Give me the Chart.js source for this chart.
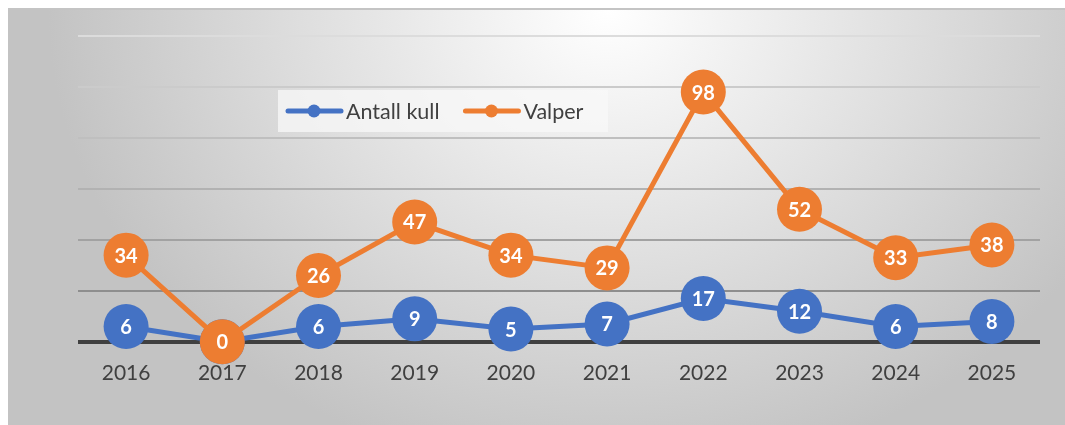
<!DOCTYPE html>
<html>
<head>
<meta charset="utf-8">
<script src="https://cdn.jsdelivr.net/npm/chart.js"></script>
<style>
  body { margin: 0; background: #fff; }
  #bakgrunn {
    position: absolute; left: 8px; top: 8px; width: 1100px; height: 440px;
    border-top: 2px solid #c4c4c4;
    background: radial-gradient(ellipse 560px 470px at 600px 0px, #ffffff 0%, #c3c3c3 100%);
  }
  #wrap { position: absolute; left: 0; top: 0; width: 1065px; height: 425px; }
</style>
</head>
<body>
<div id="bakgrunn"></div>
<div id="wrap"><canvas id="kull"></canvas></div>
<script>
const aar = ['2016', '2017', '2018', '2019', '2020', '2021', '2022', '2023', '2024', '2025'];
const antallKull = [6, 0, 6, 9, 5, 7, 17, 12, 6, 8];
const valper = [34, 0, 26, 47, 34, 29, 98, 52, 33, 38];
const yTicks = [0, 20, 40, 60, 80, 100, 120];

const blaa = '#4472C4';
const oransje = '#ED7D31';
const font = 'Lato, "Open Sans", sans-serif';

// farge på rutenettet, mørkere nedover
const gridFarger = { 0: '#404040', 20: '#8e8e8e', 40: '#a2a2a2', 60: '#b2b2b2', 80: '#bfbfbf', 100: '#cbcbcb', 120: '#dcdcdc' };

// tall inne i punktene
const etiketter = {
  id: 'etiketter',
  afterDatasetDraw(chart, args) {
    const ctx = chart.ctx;
    const ds = chart.data.datasets[args.index];
    ctx.save();
    ctx.fillStyle = '#ffffff';
    ctx.font = 'bold 20px ' + font;
    ctx.textAlign = 'center';
    ctx.textBaseline = 'middle';
    args.meta.data.forEach((p, i) => {
      ctx.fillText(String(ds.data[i]), p.x, p.y + 1);
    });
    ctx.restore();
  }
};

// egen legend inne i plottet
const legende = {
  id: 'legende',
  afterDraw(chart) {
    const ctx = chart.ctx;
    ctx.save();
    ctx.fillStyle = 'rgba(248,248,248,0.75)';
    ctx.fillRect(278, 90, 330, 42);
    ctx.font = '21.5px ' + font;
    ctx.textBaseline = 'middle';
    let x = 286;
    const y = 111;
    chart.data.datasets.forEach(ds => {
      ctx.strokeStyle = ds.borderColor;
      ctx.lineWidth = 5;
      ctx.lineCap = 'round';
      ctx.beginPath();
      ctx.moveTo(x + 2, y);
      ctx.lineTo(x + 55, y);
      ctx.stroke();
      ctx.fillStyle = ds.borderColor;
      ctx.beginPath();
      ctx.arc(x + 28, y, 6.5, 0, Math.PI * 2);
      ctx.fill();
      ctx.fillStyle = '#404040';
      ctx.fillText(ds.label, x + 60, y + 1);
      x += 60 + ctx.measureText(ds.label).width + 24;
    });
    ctx.restore();
  }
};

var data = {
  labels: aar,
  datasets: [
    {
      label: 'Antall kull',
      data: antallKull,
      borderColor: blaa,
      backgroundColor: blaa,
      borderWidth: 5,
      pointRadius: 22.5,
      pointHoverRadius: 22.5,
      pointBorderWidth: 0,
      order: 1,
      clip: false
    },
    {
      label: 'Valper',
      data: valper,
      borderColor: oransje,
      backgroundColor: oransje,
      borderWidth: 5,
      pointRadius: 22.5,
      pointHoverRadius: 22.5,
      pointBorderWidth: 0,
      order: 0,
      clip: false
    }
  ]
};

var options = {
  responsive: true,
  maintainAspectRatio: false,
  animation: false,
  layout: { padding: { left: 78, right: 25, top: 36, bottom: 20 } },
  scales: {
    x: {
      offset: true,
      grid: { display: false, drawTicks: false, offset: true },
      border: { display: false },
      ticks: { color: '#404040', padding: 19, font: { family: font, size: 21 } }
    },
    y: {
      min: 0,
      max: 120,
      afterBuildTicks: axis => { axis.ticks = yTicks.map(v => ({ value: v })); },
      ticks: { display: false },
      border: { display: false },
      grid: {
        drawTicks: false,
        color: c => gridFarger[c.tick.value] || '#bbbbbb',
        lineWidth: c => c.tick.value === 0 ? 4 : 2
      }
    }
  },
  plugins: {
    legend: { display: false },
    tooltip: { enabled: false }
  }
};

new Chart(document.getElementById('kull'), {
  type: 'line',
  data: data,
  options: options,
  plugins: [etiketter, legende]
});
</script>
</body>
</html>
